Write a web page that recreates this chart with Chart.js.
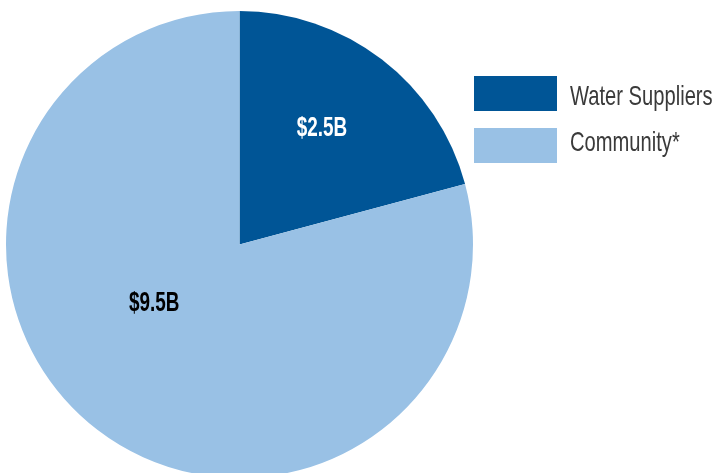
<!DOCTYPE html>
<html>
<head>
<meta charset="utf-8">
<script src="https://cdn.jsdelivr.net/npm/chart.js@4"></script>
<style>
  html, body { margin: 0; padding: 0; background: #fff; overflow: hidden; }
  #wrap { position: absolute; left: 0; top: 0; width: 715px; height: 480px; }
</style>
</head>
<body>
<div id="wrap"><canvas id="chart"></canvas></div>
<script>
// data
const categories = ['Water Suppliers', 'Community*'];
const amounts = [2.5, 9.5];            // billions of dollars
const valueLabels = ['$2.5B', '$9.5B'];
const colors = ['#005596', '#99C1E5'];
const labelColors = ['#ffffff', '#000000'];

// where inside each slice the value label sits (fraction of span / of radius)
const labelSpanPos = [0.467, 0.565];
const labelRadiusPos = [0.615, 0.44];

// draw text squeezed horizontally to look like a condensed face
function squeezedText(ctx, text, x, y, font, sx, align) {
    ctx.save();
    ctx.font = font;
    ctx.textBaseline = 'middle';
    ctx.textAlign = align;
    ctx.translate(x, y);
    ctx.scale(sx, 1);
    ctx.fillText(text, 0, 0);
    ctx.restore();
}

const sliceLabels = {
    id: 'sliceLabels',
    afterDatasetsDraw(chart) {
        const ctx = chart.ctx;
        chart.getDatasetMeta(0).data.forEach((arc, i) => {
            const p = arc.getProps(['x', 'y', 'startAngle', 'endAngle', 'outerRadius'], true);
            const a = p.startAngle + (p.endAngle - p.startAngle) * labelSpanPos[i];
            const r = p.outerRadius * labelRadiusPos[i];
            ctx.fillStyle = labelColors[i];
            squeezedText(ctx, valueLabels[i], p.x + Math.cos(a) * r, p.y + Math.sin(a) * r + 2,
                'bold 27px "Liberation Sans", sans-serif', 0.7, 'center');
        });
    }
};

const sideLegend = {
    id: 'sideLegend',
    afterDraw(chart) {
        const ctx = chart.ctx;
        const left = chart.chartArea.right + 1;
        categories.forEach((name, i) => {
            const top = 76 + i * 52;
            ctx.fillStyle = colors[i];
            ctx.fillRect(left, top, 83, 35);
            ctx.fillStyle = '#3a3a3a';
            squeezedText(ctx, name, left + 96, top + 21 - i * 6,
                '28px "Liberation Sans", sans-serif', 0.72, 'left');
        });
    }
};

new Chart(document.getElementById('chart'), {
    type: 'pie',
    data: {
        labels: categories,
        datasets: [{
            data: amounts,
            backgroundColor: colors,
            borderWidth: 0,
            hoverOffset: 0
        }]
    },
    options: {
        responsive: true,
        maintainAspectRatio: false,
        animation: false,
        layout: { padding: { left: 6, top: 11, right: 242, bottom: 2 } },
        plugins: {
            legend: { display: false },
            tooltip: { enabled: false }
        }
    },
    plugins: [sliceLabels, sideLegend]
});
</script>
</body>
</html>
